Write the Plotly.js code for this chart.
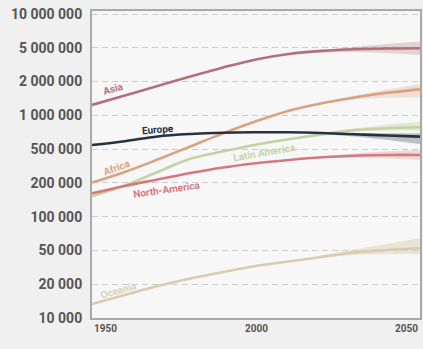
<!DOCTYPE html>
<html>
<head>
<meta charset="utf-8">
<script src="https://cdn.plot.ly/plotly-3.0.1.min.js"></script>
<style>
html,body{margin:0;padding:0;background:#f0f0f0;}
#chart{width:423px;height:349px;}
</style>
</head>
<body>
<div id="chart"></div>
<script>
// ---- data (population, thousands) ----
const years = [1950, 1960, 1970, 1980, 1990, 2000, 2010, 2020, 2030, 2040, 2050];
const asia = [1268000, 1570000, 1950000, 2421000, 2972000, 3565000, 4036000, 4325000, 4498000, 4571000, 4592000];
const africa = [216800, 276100, 366400, 493200, 663700, 873000, 1112000, 1315000, 1503000, 1671000, 1807000];
const europe = [510500, 555900, 619400, 654600, 674500, 680800, 680800, 669900, 650100, 632400, 616600];
const latinAmerica = [160000, 203200, 276100, 373300, 441600, 512900, 580700, 648600, 714500, 744700, 762100];
const northAmerica = [170200, 200900, 232800, 269800, 306200, 337300, 363100, 385500, 399900, 406400, 406400];
const oceania = [13740, 16870, 20700, 24550, 28440, 32580, 36140, 39990, 44360, 46880, 48750];

// projection uncertainty bands
const bandYears = [2010, 2030, 2050];
const asiaHi = [4036000, 4732000, 5346000];
const asiaLo = [4036000, 4227000, 3945000];
const africaHi = [1112000, 1570000, 2042000];
const africaLo = [1112000, 1435000, 1510000];
const europeHi = [680800, 669900, 665300];
const europeLo = [680800, 619400, 522400];
const latinHi = [580700, 743000, 866700];
const latinLo = [580700, 693400, 706300];
const northHi = [363100, 420700, 455000];
const northLo = [363100, 383700, 363100];
const oceaniaHi = [36140, 47430, 61240];
const oceaniaLo = [36140, 41880, 42850];

const yTickLabels = ['10 000', '20 000', '50 000', '100 000', '200 000', '500 000',
                     '1 000 000', '2 000 000', '5 000 000', '10 000 000'];
const xTickLabels = ['1950', '2000', '2050'];
const xTickYears = [1950, 2000, 2050];

// ---- styling ----
const FONT = "Roboto, 'Liberation Sans', sans-serif";
const series = [
  {name: 'Asia', y: asia, hi: asiaHi, lo: asiaLo, color: '#b3707a', band: 'rgba(179,112,122,0.28)', label: '#b3707a',
   lx: 1956.7, ly: 1824000, rot: -15},
  {name: 'Africa', y: africa, hi: africaHi, lo: africaLo, color: '#d9a37f', band: 'rgba(217,163,127,0.28)', label: '#d9a37f',
   lx: 1957.6, ly: 302700, rot: -20},
  {name: 'Latin America', y: latinAmerica, hi: latinHi, lo: latinLo, color: '#c3d2a3', band: 'rgba(195,210,163,0.4)', label: '#c6d4a8',
   lx: 2002.6, ly: 425600, rot: -10},
  {name: 'North-America', y: northAmerica, hi: northHi, lo: northLo, color: '#d27a7f', band: 'rgba(210,122,127,0.25)', label: '#d27a7f',
   lx: 1972.9, ly: 183700, rot: -8},
  {name: 'Oceania', y: oceania, hi: oceaniaHi, lo: oceaniaLo, color: '#d9ccae', band: 'rgba(217,204,174,0.45)', label: '#dbd1b8',
   lx: 1958, ly: 18880, rot: -16},
  {name: 'Europe', y: europe, hi: europeHi, lo: europeLo, color: '#27313d', band: 'rgba(39,49,61,0.28)', label: '#27313d',
   lx: 1970.2, ly: 717800, rot: -4}
];

const traces = [];
series.forEach(s => {
  traces.push({x: bandYears, y: s.lo, type: 'scatter', mode: 'lines', line: {width: 0, shape: 'spline'},
               hoverinfo: 'skip', showlegend: false});
  traces.push({x: bandYears, y: s.hi, type: 'scatter', mode: 'lines', line: {width: 0, shape: 'spline'},
               fill: 'tonexty', fillcolor: s.band, hoverinfo: 'skip', showlegend: false});
});
series.forEach(s => {
  traces.push({x: years, y: s.y, type: 'scatter', mode: 'lines', name: s.name,
               line: {color: s.color, width: 2.6, shape: 'spline', smoothing: 1}, showlegend: false});
});

const annotations = series.map(s => ({
  x: s.lx, y: Math.log10(s.ly), xref: 'x', yref: 'y', text: '<b>' + s.name + '</b>', showarrow: false,
  textangle: s.rot, font: {family: FONT, size: 10, color: s.label}
}));
const anchors = ['left', 'center', 'right'];
xTickYears.forEach((yr, i) => {
  annotations.push({x: yr, y: 0, xref: 'x', yref: 'paper', yanchor: 'top', yshift: -3, xanchor: anchors[i],
    text: '<b>' + xTickLabels[i] + '</b>', showarrow: false, font: {family: FONT, size: 10, color: '#555555'}});
});

const layout = {
  width: 423, height: 349,
  margin: {l: 92, r: 3, t: 11, b: 31},
  paper_bgcolor: '#f0f0f0',
  plot_bgcolor: '#f7f7f7',
  showlegend: false,
  xaxis: {range: [1950, 2050], showgrid: false, zeroline: false, showticklabels: false, ticks: '',
          showline: true, mirror: true, linecolor: '#a9a9a9', linewidth: 2},
  yaxis: {type: 'log', range: [4, 7.03], tickmode: 'array',
          tickvals: yTickLabels.map((t, i) => Math.pow(10, 4 + i / 3)),
          ticktext: yTickLabels.map(t => '<b>' + t + '</b>'),
          tickfont: {family: FONT, size: 14, color: '#555555'},
          ticks: '', ticklabelstandoff: 5,
          showgrid: true, gridcolor: '#cccccc', griddash: '6px,4px', gridwidth: 1, zeroline: false,
          showline: true, mirror: true, linecolor: '#a9a9a9', linewidth: 2},
  annotations: annotations
};

Plotly.newPlot('chart', traces, layout, {staticPlot: true, displayModeBar: false});
</script>
</body>
</html>
